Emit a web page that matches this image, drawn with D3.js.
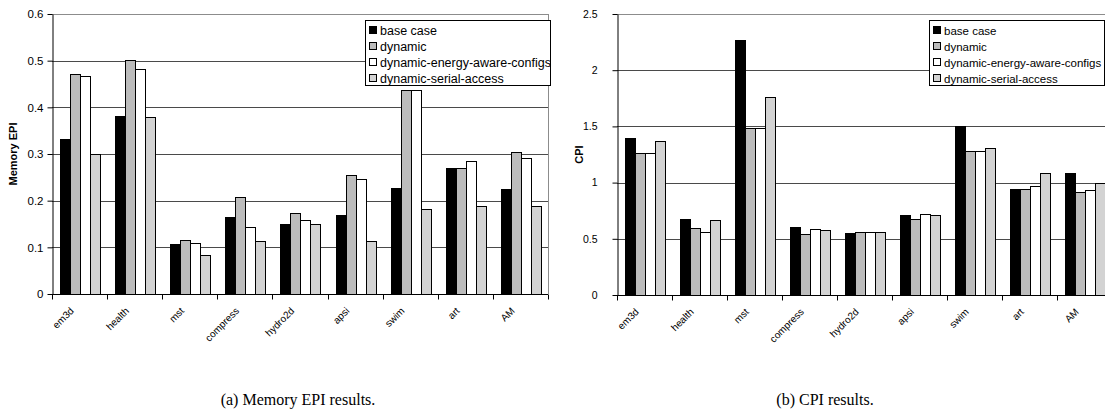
<!DOCTYPE html>
<html>
  <head>
    <meta charset="utf-8">
    <title>Memory EPI and CPI results</title>
    <script src="https://cdn.jsdelivr.net/npm/d3@7"></script>
    <style>
      body { margin: 0; background: #fff; }
      svg { display: block; font-family: "Liberation Sans", Arial, sans-serif; }
      .grid { stroke: #4a4a4a; stroke-width: 1; shape-rendering: crispEdges; }
      .frame { stroke: #8c8c8c; fill: none; shape-rendering: crispEdges; }
      .bar { stroke: #000; stroke-width: 1; shape-rendering: crispEdges; }
      .caption { font-family: "Liberation Serif", "Times New Roman", serif; font-size: 16px; }
    </style>
  </head>
  <body>
    <svg id="chart" width="1105" height="409"></svg>
    <script>
    var categories = ["em3d", "health", "mst", "compress", "hydro2d", "apsi", "swim", "art", "AM"];
    var seriesNames = ["base case", "dynamic", "dynamic-energy-aware-configs", "dynamic-serial-access"];
    var seriesColors = ["#000000", "#bcbcbc", "#ffffff", "#d3d3d3"];

    // memory EPI
    var epiBase    = [0.332, 0.382, 0.107, 0.164, 0.149, 0.169, 0.228, 0.269, 0.225];
    var epiDynamic = [0.472, 0.501, 0.116, 0.208, 0.174, 0.254, 0.437, 0.270, 0.305];
    var epiEnergy  = [0.468, 0.482, 0.110, 0.144, 0.158, 0.247, 0.437, 0.284, 0.292];
    var epiSerial  = [0.300, 0.380, 0.083, 0.113, 0.149, 0.113, 0.182, 0.188, 0.189];
    var epiTicks = [0, 0.1, 0.2, 0.3, 0.4, 0.5, 0.6];

    // CPI
    var cpiBase    = [1.40, 0.677, 2.27, 0.603, 0.552, 0.712, 1.50, 0.941, 1.084];
    var cpiDynamic = [1.26, 0.594, 1.49, 0.540, 0.561, 0.680, 1.277, 0.941, 0.920];
    var cpiEnergy  = [1.26, 0.561, 1.49, 0.585, 0.561, 0.719, 1.280, 0.968, 0.932];
    var cpiSerial  = [1.371, 0.665, 1.76, 0.576, 0.561, 0.710, 1.306, 1.084, 1.000];
    var cpiTicks = [0, 0.5, 1, 1.5, 2, 2.5];

    var svg = d3.select("#chart");

    function drawChart(opt) {
      var series = opt.series;
      var g = svg.append("g");

      var x0 = d3.scaleBand().domain(categories).range([opt.left, opt.right]).padding(0);
      var x1 = d3.scaleBand().domain(seriesNames).range([7.5, x0.bandwidth() - 7.5]).padding(0);
      var y = d3.scaleLinear().domain([0, opt.max]).range([opt.bottom, opt.top]);

      // grid lines
      g.append("g").selectAll("line")
        .data(opt.ticks.filter(function(t){ return t > 0 && t < opt.max; }))
        .enter().append("line")
        .attr("class", "grid")
        .attr("x1", opt.left).attr("x2", opt.right)
        .attr("y1", function(d){ return Math.round(y(d)) + 0.5; })
        .attr("y2", function(d){ return Math.round(y(d)) + 0.5; });

      // frame top + right
      g.append("path")
        .attr("class", "frame")
        .attr("d", "M" + opt.left + "," + (Math.round(y(opt.max)) + 0.5) +
                   "H" + (opt.right + 0.5) + "V" + opt.bottom);

      // bars
      var groups = g.append("g").selectAll("g")
        .data(categories)
        .enter().append("g")
        .attr("transform", function(d){ return "translate(" + x0(d) + ",0)"; });

      groups.selectAll("rect")
        .data(function(d, i) {
          return seriesNames.map(function(s, j){ return {key: s, value: series[j][i], k: j}; });
        })
        .enter().append("rect")
        .attr("class", "bar")
        .attr("x", function(d){ return Math.round(x1(d.key)) + 0.5; })
        .attr("width", x1.bandwidth())
        .attr("y", function(d){ return Math.round(y(d.value)) + 0.5; })
        .attr("height", function(d){ return Math.round(y(0)) - Math.round(y(d.value)); })
        .attr("fill", function(d){ return seriesColors[d.k]; });

      // y axis
      var yAxis = d3.axisLeft(y)
        .tickValues(opt.ticks)
        .tickFormat(function(d){ return String(d); })
        .tickSize(5)
        .tickSizeOuter(0)
        .tickPadding(opt.tickPad);
      var ya = g.append("g")
        .attr("transform", "translate(" + (Math.round(opt.left) + 0.5) + ",0)")
        .call(yAxis);
      ya.select(".domain").attr("stroke", "#000");
      ya.selectAll("line").attr("stroke", "#000");
      ya.selectAll("text")
        .attr("font-family", "Liberation Sans, Arial, sans-serif")
        .attr("font-size", opt.tickFont)
        .attr("fill", "#000");

      // x axis baseline and category ticks
      var base = Math.round(y(0)) + 0.5;
      g.append("line")
        .attr("x1", opt.left).attr("x2", opt.right)
        .attr("y1", base).attr("y2", base)
        .attr("stroke", "#000");
      var bounds = categories.map(function(c){ return x0(c); }).concat([opt.right]);
      g.append("g").selectAll("line")
        .data(bounds)
        .enter().append("line")
        .attr("x1", function(d){ return Math.round(d) + 0.5; })
        .attr("x2", function(d){ return Math.round(d) + 0.5; })
        .attr("y1", base).attr("y2", base + 5)
        .attr("stroke", "#000");

      g.append("g").selectAll("text")
        .data(categories)
        .enter().append("text")
        .attr("text-anchor", "end")
        .attr("font-size", 10)
        .attr("x", 0).attr("y", 0)
        .attr("transform", function(d){
          var cx = x0(d) + x0.bandwidth() / 2 - 5;
          return "translate(" + cx + "," + (base + 17) + ") rotate(-45)";
        })
        .text(function(d){ return d; });

      // y title
      g.append("text")
        .attr("transform", "translate(" + opt.titleX + "," + ((opt.top + opt.bottom) / 2) + ") rotate(-90)")
        .attr("text-anchor", "middle")
        .attr("font-weight", "bold")
        .attr("font-size", 11)
        .text(opt.title);

      // legend
      var lg = g.append("g").attr("transform", "translate(" + opt.legendX + "," + opt.legendY + ")");
      lg.append("rect")
        .attr("x", 0.5).attr("y", 0.5)
        .attr("width", opt.legendW).attr("height", 65)
        .attr("fill", "#fff").attr("stroke", "#000");
      var items = lg.selectAll("g.item")
        .data(seriesNames)
        .enter().append("g")
        .attr("class", "item")
        .attr("transform", function(d, i){ return "translate(4," + (6 + i * 16) + ")"; });
      items.append("rect")
        .attr("x", 0.5).attr("y", 0.5)
        .attr("width", 7).attr("height", 7)
        .attr("fill", function(d, i){ return seriesColors[i]; })
        .attr("stroke", "#000");
      items.append("text")
        .attr("x", 11)
        .attr("y", 8.5)
        .attr("font-size", opt.legendFont)
        .text(function(d){ return d; });

      // caption
      svg.append("text")
        .attr("class", "caption")
        .attr("x", opt.captionX)
        .attr("y", 405)
        .attr("text-anchor", "middle")
        .text(opt.caption);
    }

    drawChart({
      series: [epiBase, epiDynamic, epiEnergy, epiSerial],
      left: 52, right: 548, top: 14, bottom: 294, max: 0.6,
      ticks: epiTicks, tickPad: 4, tickFont: 11.5,
      title: "Memory EPI", titleX: 17,
      legendX: 365, legendY: 20, legendW: 185, legendFont: 12.5,
      caption: "(a) Memory EPI results.", captionX: 298
    });

    drawChart({
      series: [cpiBase, cpiDynamic, cpiEnergy, cpiSerial],
      left: 617, right: 1112, top: 14, bottom: 295, max: 2.5,
      ticks: cpiTicks, tickPad: 15, tickFont: 10.5,
      title: "CPI", titleX: 583,
      legendX: 929, legendY: 20, legendW: 175, legendFont: 11.5,
      caption: "(b) CPI results.", captionX: 825
    });
    </script>
  </body>
</html>
